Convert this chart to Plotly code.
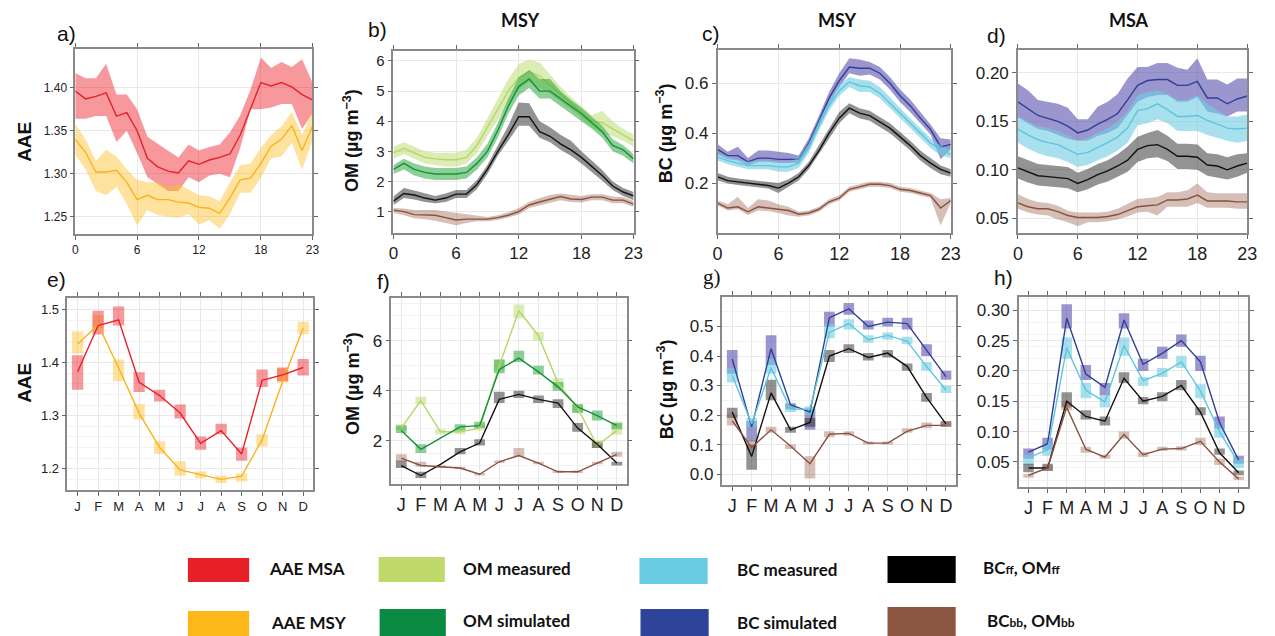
import numpy as np
import plotly.graph_objects as go
from plotly.subplots import make_subplots

# the page body keeps its default 8px margin, so the figure is placed at (8, 8)
OX, OY = 8, 8
FW, FH = 1267, 628

hours = list(range(24))
month_pos = list(range(12))
months = ["J", "F", "M", "A", "M", "J", "J", "A", "S", "O", "N", "D"]

# ---- a) AAE diurnal
a_msa = [1.396, 1.387, 1.390, 1.394, 1.367, 1.371, 1.350, 1.318, 1.308, 1.303, 1.301, 1.315,
         1.311, 1.316, 1.319, 1.323, 1.345, 1.375, 1.406, 1.402, 1.406, 1.401, 1.392, 1.386]
a_msa_hi = [1.417, 1.411, 1.411, 1.428, 1.392, 1.392, 1.375, 1.343, 1.335, 1.327, 1.319, 1.334,
            1.327, 1.331, 1.334, 1.348, 1.368, 1.398, 1.435, 1.423, 1.430, 1.424, 1.433, 1.406]
a_msa_lo = [1.364, 1.364, 1.367, 1.367, 1.337, 1.350, 1.324, 1.296, 1.288, 1.280, 1.280, 1.296,
            1.290, 1.298, 1.300, 1.296, 1.330, 1.375, 1.375, 1.377, 1.381, 1.381, 1.352, 1.370]
a_msy = [1.340, 1.325, 1.302, 1.302, 1.304, 1.290, 1.270, 1.275, 1.270, 1.270, 1.267, 1.266,
         1.261, 1.260, 1.254, 1.272, 1.293, 1.295, 1.312, 1.332, 1.340, 1.356, 1.327, 1.355]
a_msy_hi = [1.358, 1.340, 1.315, 1.328, 1.320, 1.305, 1.293, 1.290, 1.290, 1.285, 1.288, 1.282,
            1.275, 1.274, 1.268, 1.290, 1.310, 1.312, 1.330, 1.345, 1.355, 1.372, 1.345, 1.372]
a_msy_lo = [1.322, 1.305, 1.280, 1.275, 1.285, 1.265, 1.240, 1.258, 1.252, 1.250, 1.249, 1.253,
            1.241, 1.246, 1.236, 1.253, 1.278, 1.278, 1.295, 1.318, 1.320, 1.336, 1.305, 1.338]

# ---- b) OM MSY diurnal
b_meas = [2.95, 3.10, 2.95, 2.80, 2.75, 2.72, 2.72, 2.80, 3.20, 3.80, 4.40, 5.00,
          5.45, 5.65, 5.50, 5.20, 4.90, 4.60, 4.30, 4.00, 3.95, 3.75, 3.55, 3.35]
b_meas_hi = [3.15, 3.30, 3.15, 3.00, 2.95, 2.95, 2.95, 3.05, 3.45, 4.10, 4.75, 5.40,
             5.90, 6.05, 5.95, 5.55, 5.15, 4.80, 4.50, 4.20, 4.35, 4.00, 3.75, 3.55]
b_meas_lo = [2.75, 2.90, 2.75, 2.60, 2.55, 2.50, 2.50, 2.60, 2.95, 3.50, 4.05, 4.60,
             5.05, 5.30, 5.10, 4.90, 4.65, 4.40, 4.10, 3.80, 3.60, 3.50, 3.35, 3.15]
b_sim = [2.40, 2.60, 2.40, 2.30, 2.25, 2.25, 2.25, 2.30, 2.60, 3.00, 3.70, 4.50,
         5.15, 5.40, 5.00, 5.00, 4.75, 4.50, 4.25, 3.95, 3.65, 3.20, 3.05, 2.75]
b_sim_hi = [2.55, 2.75, 2.60, 2.50, 2.45, 2.45, 2.45, 2.50, 2.80, 3.25, 3.95, 4.75,
            5.45, 5.70, 5.40, 5.40, 5.00, 4.70, 4.45, 4.15, 3.85, 3.40, 3.20, 2.90]
b_sim_lo = [2.25, 2.40, 2.20, 2.10, 2.05, 2.05, 2.05, 2.10, 2.40, 2.80, 3.45, 4.25,
            4.85, 5.10, 4.75, 4.75, 4.50, 4.25, 4.00, 3.75, 3.45, 3.00, 2.85, 2.60]
b_ff = [1.35, 1.60, 1.55, 1.45, 1.38, 1.45, 1.58, 1.58, 1.90, 2.40, 3.00, 3.55,
        4.15, 4.15, 3.65, 3.50, 3.25, 3.05, 2.80, 2.50, 2.20, 1.85, 1.65, 1.52]
b_ff_hi = [1.50, 1.78, 1.70, 1.60, 1.52, 1.60, 1.72, 1.72, 2.05, 2.55, 3.20, 3.85,
           4.62, 4.60, 4.00, 3.80, 3.55, 3.35, 3.00, 2.70, 2.38, 2.00, 1.78, 1.65]
b_ff_lo = [1.22, 1.45, 1.40, 1.32, 1.28, 1.32, 1.45, 1.45, 1.75, 2.25, 2.85, 3.35,
           3.85, 3.85, 3.45, 3.30, 3.05, 2.85, 2.60, 2.32, 2.02, 1.72, 1.52, 1.38]
b_bb = [1.05, 1.00, 0.90, 0.90, 0.88, 0.80, 0.72, 0.75, 0.75, 0.75, 0.80, 0.88,
        1.00, 1.22, 1.32, 1.42, 1.50, 1.42, 1.40, 1.48, 1.48, 1.38, 1.38, 1.25]
b_bb_hi = [1.12, 1.10, 1.05, 1.05, 1.05, 1.00, 0.95, 0.90, 0.85, 0.82, 0.88, 0.98,
           1.12, 1.32, 1.45, 1.55, 1.60, 1.55, 1.52, 1.58, 1.58, 1.50, 1.48, 1.35]
b_bb_lo = [0.95, 0.88, 0.78, 0.75, 0.70, 0.62, 0.55, 0.62, 0.68, 0.68, 0.72, 0.80,
           0.90, 1.12, 1.20, 1.30, 1.38, 1.32, 1.30, 1.38, 1.38, 1.28, 1.28, 1.15]

# ---- c) BC MSY diurnal
c_sim = [0.335, 0.310, 0.310, 0.285, 0.300, 0.300, 0.295, 0.295, 0.295, 0.360, 0.450, 0.540,
         0.610, 0.665, 0.660, 0.660, 0.640, 0.600, 0.550, 0.510, 0.460, 0.415, 0.345, 0.355]
c_sim_hi = [0.355, 0.325, 0.345, 0.300, 0.330, 0.330, 0.325, 0.320, 0.310, 0.380, 0.470, 0.565,
            0.640, 0.700, 0.695, 0.685, 0.665, 0.625, 0.575, 0.535, 0.485, 0.435, 0.380, 0.375]
c_sim_lo = [0.315, 0.295, 0.290, 0.270, 0.285, 0.285, 0.280, 0.280, 0.280, 0.340, 0.430, 0.515,
            0.585, 0.640, 0.630, 0.635, 0.615, 0.575, 0.525, 0.485, 0.440, 0.395, 0.295, 0.335]
c_meas = [0.305, 0.290, 0.280, 0.270, 0.270, 0.270, 0.265, 0.265, 0.280, 0.340, 0.430, 0.510,
          0.570, 0.605, 0.590, 0.585, 0.560, 0.520, 0.480, 0.440, 0.400, 0.360, 0.335, 0.315]
c_meas_hi = [0.320, 0.305, 0.295, 0.285, 0.290, 0.290, 0.285, 0.285, 0.300, 0.360, 0.450, 0.530,
             0.595, 0.625, 0.615, 0.610, 0.585, 0.545, 0.500, 0.460, 0.420, 0.380, 0.350, 0.330]
c_meas_lo = [0.290, 0.275, 0.265, 0.255, 0.255, 0.255, 0.245, 0.245, 0.260, 0.320, 0.410, 0.490,
             0.550, 0.585, 0.565, 0.565, 0.540, 0.500, 0.460, 0.420, 0.380, 0.340, 0.310, 0.300]
c_ff = [0.225, 0.210, 0.205, 0.200, 0.195, 0.190, 0.180, 0.200, 0.225, 0.270, 0.330, 0.400,
        0.460, 0.500, 0.480, 0.470, 0.445, 0.420, 0.385, 0.350, 0.310, 0.280, 0.255, 0.240]
c_ff_hi = [0.240, 0.225, 0.218, 0.213, 0.208, 0.205, 0.200, 0.215, 0.240, 0.285, 0.350, 0.420,
           0.485, 0.520, 0.500, 0.490, 0.465, 0.440, 0.405, 0.370, 0.330, 0.300, 0.270, 0.255]
c_ff_lo = [0.210, 0.198, 0.192, 0.188, 0.182, 0.178, 0.160, 0.185, 0.210, 0.255, 0.315, 0.380,
           0.440, 0.480, 0.460, 0.450, 0.425, 0.400, 0.365, 0.330, 0.290, 0.260, 0.235, 0.225]
c_bb = [0.120, 0.100, 0.105, 0.085, 0.105, 0.100, 0.095, 0.090, 0.075, 0.080, 0.095, 0.125,
        0.140, 0.175, 0.185, 0.195, 0.195, 0.190, 0.175, 0.170, 0.160, 0.150, 0.100, 0.130]
c_bb_hi = [0.130, 0.115, 0.145, 0.100, 0.135, 0.130, 0.115, 0.105, 0.085, 0.090, 0.105, 0.135,
           0.150, 0.185, 0.195, 0.205, 0.205, 0.200, 0.185, 0.180, 0.170, 0.160, 0.135, 0.140]
c_bb_lo = [0.110, 0.090, 0.095, 0.072, 0.090, 0.088, 0.080, 0.070, 0.065, 0.070, 0.085, 0.115,
           0.130, 0.165, 0.175, 0.185, 0.185, 0.180, 0.165, 0.160, 0.150, 0.140, 0.030, 0.120]

# ---- d) BC MSA diurnal
d_sim = [0.170, 0.163, 0.156, 0.153, 0.150, 0.145, 0.138, 0.141, 0.147, 0.152, 0.158, 0.172,
         0.187, 0.192, 0.193, 0.193, 0.187, 0.187, 0.191, 0.174, 0.174, 0.168, 0.173, 0.176]
d_sim_hi = [0.189, 0.182, 0.172, 0.170, 0.168, 0.164, 0.152, 0.152, 0.165, 0.170, 0.178, 0.194,
            0.206, 0.206, 0.210, 0.210, 0.205, 0.203, 0.215, 0.193, 0.193, 0.188, 0.194, 0.194]
d_sim_lo = [0.154, 0.148, 0.142, 0.140, 0.136, 0.132, 0.130, 0.130, 0.135, 0.138, 0.143, 0.157,
            0.170, 0.175, 0.177, 0.177, 0.170, 0.170, 0.175, 0.160, 0.158, 0.155, 0.160, 0.160]
d_meas = [0.142, 0.136, 0.131, 0.128, 0.126, 0.121, 0.116, 0.118, 0.123, 0.128, 0.134, 0.143,
          0.161, 0.163, 0.168, 0.162, 0.155, 0.155, 0.156, 0.151, 0.147, 0.143, 0.142, 0.143]
d_meas_hi = [0.155, 0.150, 0.145, 0.143, 0.140, 0.136, 0.130, 0.133, 0.138, 0.143, 0.150, 0.160,
             0.177, 0.180, 0.182, 0.178, 0.172, 0.172, 0.177, 0.168, 0.162, 0.155, 0.155, 0.157]
d_meas_lo = [0.128, 0.122, 0.117, 0.114, 0.112, 0.108, 0.103, 0.105, 0.110, 0.114, 0.120, 0.128,
             0.146, 0.148, 0.152, 0.148, 0.140, 0.140, 0.140, 0.136, 0.133, 0.130, 0.128, 0.130]
d_ff = [0.102, 0.098, 0.094, 0.093, 0.092, 0.091, 0.086, 0.090, 0.095, 0.099, 0.104, 0.110,
        0.121, 0.125, 0.126, 0.121, 0.114, 0.114, 0.113, 0.105, 0.104, 0.100, 0.104, 0.107]
d_ff_hi = [0.114, 0.110, 0.106, 0.105, 0.104, 0.103, 0.097, 0.101, 0.106, 0.110, 0.116, 0.124,
           0.134, 0.138, 0.141, 0.135, 0.127, 0.127, 0.126, 0.117, 0.116, 0.113, 0.116, 0.117]
d_ff_lo = [0.091, 0.087, 0.084, 0.083, 0.082, 0.081, 0.077, 0.080, 0.085, 0.088, 0.093, 0.098,
           0.108, 0.112, 0.113, 0.109, 0.101, 0.101, 0.100, 0.094, 0.092, 0.090, 0.093, 0.097]
d_bb = [0.066, 0.062, 0.060, 0.060, 0.057, 0.053, 0.051, 0.051, 0.051, 0.052, 0.054, 0.058,
        0.062, 0.063, 0.064, 0.069, 0.069, 0.070, 0.074, 0.068, 0.068, 0.068, 0.067, 0.067]
d_bb_hi = [0.075, 0.070, 0.067, 0.066, 0.063, 0.058, 0.056, 0.056, 0.056, 0.057, 0.060, 0.065,
           0.070, 0.071, 0.072, 0.077, 0.077, 0.079, 0.086, 0.077, 0.076, 0.076, 0.076, 0.076]
d_bb_lo = [0.060, 0.056, 0.054, 0.053, 0.049, 0.046, 0.042, 0.046, 0.046, 0.047, 0.049, 0.052,
           0.056, 0.057, 0.053, 0.062, 0.062, 0.062, 0.066, 0.061, 0.061, 0.061, 0.060, 0.060]

# ---- e) AAE monthly
e_msa = [1.383, 1.470, 1.481, 1.363, 1.338, 1.305, 1.248, 1.272, 1.228, 1.367, 1.377, 1.391]
e_msa_lo = [1.349, 1.453, 1.470, 1.345, 1.327, 1.295, 1.236, 1.265, 1.215, 1.354, 1.365, 1.376]
e_msa_hi = [1.414, 1.498, 1.506, 1.382, 1.349, 1.321, 1.261, 1.285, 1.240, 1.387, 1.391, 1.407]
e_msy = [1.435, 1.472, 1.390, 1.305, 1.240, 1.198, 1.189, 1.180, 1.186, 1.255, 1.365, 1.465]
e_msy_lo = [1.418, 1.465, 1.365, 1.293, 1.228, 1.187, 1.182, 1.173, 1.176, 1.242, 1.362, 1.454]
e_msy_hi = [1.459, 1.490, 1.406, 1.322, 1.252, 1.214, 1.195, 1.187, 1.191, 1.265, 1.389, 1.477]

# ---- f) OM monthly
f_meas = [2.50, 3.60, 2.35, 2.35, 2.50, 5.00, 7.20, 6.20, 4.30, 3.30, 1.80, 2.40]
f_meas_lo = [2.40, 3.45, 2.25, 2.25, 2.40, 4.80, 6.90, 6.00, 4.10, 3.15, 1.70, 2.23]
f_meas_hi = [2.65, 3.75, 2.45, 2.45, 2.65, 5.25, 7.45, 6.35, 4.50, 3.45, 2.00, 2.76]
f_sim = [2.40, 1.65, 2.10, 2.55, 2.60, 4.85, 5.30, 4.75, 4.15, 3.35, 3.00, 2.60]
f_sim_lo = [2.30, 1.50, None, 2.40, 2.50, 4.70, 5.15, 4.65, 4.00, 3.10, 2.80, 2.45]
f_sim_hi = [2.60, 1.85, None, 2.65, 2.75, 5.25, 5.60, 5.00, 4.35, 3.45, 3.20, 2.70]
f_ff = [1.00, 0.60, 1.05, 1.55, 1.90, 3.65, 3.85, 3.65, 3.50, 2.50, 1.85, 1.10]
f_ff_lo = [0.90, 0.50, None, 1.45, 1.80, 3.50, 3.70, 3.50, 3.30, 2.35, 1.70, 1.00]
f_ff_hi = [1.20, 0.75, None, 1.70, 2.05, 3.95, 4.00, 3.80, 3.65, 2.70, 1.95, 1.15]
f_bb = [1.30, 1.00, 0.95, 0.90, 0.65, 1.15, 1.40, 1.10, 0.75, 0.75, 1.10, 1.45]
f_bb_lo = [1.15, 0.95, 0.90, 0.85, 0.60, 1.10, 1.35, 1.05, 0.70, 0.70, 1.05, 1.35]
f_bb_hi = [1.45, 1.15, 1.00, 0.95, 0.70, 1.20, 1.70, 1.15, 0.80, 0.80, 1.15, 1.55]

# ---- g) BC MSY monthly
g_sim = [0.390, 0.160, 0.425, 0.235, 0.210, 0.530, 0.560, 0.500, 0.515, 0.510, 0.420, 0.330]
g_sim_lo = [0.340, 0.110, 0.370, 0.220, 0.150, 0.500, 0.540, 0.490, 0.500, 0.490, 0.400, 0.320]
g_sim_hi = [0.420, 0.180, 0.470, 0.240, 0.220, 0.550, 0.580, 0.520, 0.530, 0.530, 0.440, 0.350]
g_meas = [0.335, 0.170, 0.360, 0.220, 0.220, 0.480, 0.510, 0.455, 0.470, 0.450, 0.365, 0.285]
g_meas_lo = [0.310, 0.160, 0.340, 0.210, 0.200, 0.460, 0.490, 0.445, 0.455, 0.440, 0.350, 0.275]
g_meas_hi = [0.360, 0.190, 0.390, 0.235, 0.230, 0.510, 0.525, 0.470, 0.480, 0.465, 0.380, 0.300]
g_ff = [0.210, 0.060, 0.275, 0.150, 0.175, 0.400, 0.425, 0.395, 0.410, 0.365, 0.260, 0.170]
g_ff_lo = [0.190, 0.015, 0.250, 0.140, 0.160, 0.380, 0.410, 0.385, 0.395, 0.350, 0.245, 0.160]
g_ff_hi = [0.225, 0.100, 0.320, 0.160, 0.190, 0.420, 0.440, 0.410, 0.420, 0.375, 0.275, 0.180]
g_bb = [0.180, 0.090, 0.150, 0.095, 0.035, 0.135, 0.138, 0.105, 0.105, 0.145, 0.165, 0.165]
g_bb_lo = [0.165, 0.080, 0.140, 0.085, -0.015, 0.125, 0.130, 0.100, 0.100, 0.140, 0.155, 0.160]
g_bb_hi = [0.205, 0.115, 0.160, 0.100, 0.060, 0.145, 0.145, 0.110, 0.110, 0.155, 0.175, 0.175]

# ---- h) BC MSA monthly
h_sim = [0.066, 0.080, 0.287, 0.195, 0.173, 0.284, 0.211, 0.229, 0.250, 0.215, 0.115, 0.053]
h_sim_lo = [0.055, 0.070, 0.270, 0.185, 0.160, 0.270, 0.200, 0.220, 0.240, 0.200, 0.105, 0.047]
h_sim_hi = [0.072, 0.090, 0.310, 0.210, 0.180, 0.295, 0.220, 0.240, 0.260, 0.225, 0.125, 0.060]
h_meas = [0.057, 0.070, 0.238, 0.168, 0.149, 0.242, 0.184, 0.196, 0.215, 0.167, 0.100, 0.048]
h_meas_lo = [0.045, 0.060, 0.220, 0.155, 0.140, 0.225, 0.175, 0.190, 0.205, 0.155, 0.090, 0.040]
h_meas_hi = [0.062, 0.080, 0.255, 0.180, 0.160, 0.255, 0.190, 0.205, 0.225, 0.178, 0.110, 0.055]
h_ff = [0.040, 0.040, 0.150, 0.125, 0.117, 0.188, 0.150, 0.158, 0.176, 0.132, 0.065, 0.032]
h_ff_lo = [0.033, 0.035, 0.140, 0.120, 0.110, 0.180, 0.145, 0.150, 0.168, 0.127, 0.062, 0.028]
h_ff_hi = [0.047, 0.047, 0.165, 0.135, 0.125, 0.198, 0.157, 0.165, 0.185, 0.140, 0.072, 0.036]
h_bb = [0.028, 0.040, 0.140, 0.071, 0.058, 0.095, 0.062, 0.071, 0.072, 0.084, 0.050, 0.022]
h_bb_lo = [0.024, 0.036, 0.135, 0.065, 0.055, 0.088, 0.058, 0.068, 0.069, 0.078, 0.045, 0.020]
h_bb_hi = [0.030, 0.045, 0.150, 0.075, 0.062, 0.100, 0.066, 0.075, 0.076, 0.090, 0.055, 0.026]

# colours: (line, translucent fill)
RED = ("#e8202a", "rgba(237,28,36,0.45)")
YEL = ("#fbb21a", "rgba(253,190,40,0.45)")
LGR = ("#b7d66a", "rgba(190,220,120,0.55)")
DGR = ("#13923c", "rgba(30,160,50,0.5)")
LBL = ("#5bc6de", "rgba(110,205,225,0.6)")
DBL = ("#2f3f98", "rgba(90,80,175,0.6)")
BLK = ("#111111", "rgba(40,40,40,0.5)")
BRN = ("#8b5040", "rgba(150,95,75,0.4)")

fig = make_subplots(rows=2, cols=4)


def band(r, c, lo, hi, col):
    fig.add_trace(go.Scatter(x=hours + hours[::-1], y=hi + lo[::-1], fill="toself",
                             fillcolor=col[1], mode="lines", line=dict(width=0),
                             hoverinfo="skip", showlegend=False), row=r, col=c)


def line(r, c, x, y, col, w=1.4):
    fig.add_trace(go.Scatter(x=x, y=y, mode="lines", line=dict(color=col[0], width=w),
                             showlegend=False), row=r, col=c)


def boxes(r, c, lo, hi, col):
    lo = np.array(lo, dtype=float)
    hi = np.array(hi, dtype=float)
    fig.add_trace(go.Bar(x=month_pos, y=hi - lo, base=lo, width=0.55,
                         marker=dict(color=col[1], line=dict(width=0)),
                         showlegend=False), row=r, col=c)


# top row: diurnal bands
for lo, hi, y, col in [(a_msa_lo, a_msa_hi, a_msa, RED), (a_msy_lo, a_msy_hi, a_msy, YEL)]:
    band(1, 1, lo, hi, col)
for lo, hi, y, col in [(a_msa_lo, a_msa_hi, a_msa, RED), (a_msy_lo, a_msy_hi, a_msy, YEL)]:
    line(1, 1, hours, y, col)

for lo, hi, y, col in [(b_meas_lo, b_meas_hi, b_meas, LGR), (b_sim_lo, b_sim_hi, b_sim, DGR),
                       (b_ff_lo, b_ff_hi, b_ff, BLK), (b_bb_lo, b_bb_hi, b_bb, BRN)]:
    band(1, 2, lo, hi, col)
    line(1, 2, hours, y, col)

for lo, hi, y, col in [(c_sim_lo, c_sim_hi, c_sim, DBL), (c_meas_lo, c_meas_hi, c_meas, LBL),
                       (c_ff_lo, c_ff_hi, c_ff, BLK), (c_bb_lo, c_bb_hi, c_bb, BRN)]:
    band(1, 3, lo, hi, col)
    line(1, 3, hours, y, col)

for lo, hi, y, col in [(d_sim_lo, d_sim_hi, d_sim, DBL), (d_meas_lo, d_meas_hi, d_meas, LBL),
                       (d_ff_lo, d_ff_hi, d_ff, BLK), (d_bb_lo, d_bb_hi, d_bb, BRN)]:
    band(1, 4, lo, hi, col)
    line(1, 4, hours, y, col)

# bottom row: monthly boxes + lines
bottom = [
    (1, [(e_msy_lo, e_msy_hi, e_msy, YEL), (e_msa_lo, e_msa_hi, e_msa, RED)]),
    (2, [(f_meas_lo, f_meas_hi, f_meas, LGR), (f_sim_lo, f_sim_hi, f_sim, DGR),
         (f_ff_lo, f_ff_hi, f_ff, BLK), (f_bb_lo, f_bb_hi, f_bb, BRN)]),
    (3, [(g_sim_lo, g_sim_hi, g_sim, DBL), (g_meas_lo, g_meas_hi, g_meas, LBL),
         (g_ff_lo, g_ff_hi, g_ff, BLK), (g_bb_lo, g_bb_hi, g_bb, BRN)]),
    (4, [(h_sim_lo, h_sim_hi, h_sim, DBL), (h_meas_lo, h_meas_hi, h_meas, LBL),
         (h_ff_lo, h_ff_hi, h_ff, BLK), (h_bb_lo, h_bb_hi, h_bb, BRN)]),
]
for c, series in bottom:
    for lo, hi, y, col in series:
        boxes(2, c, lo, hi, col)
    for lo, hi, y, col in series:
        line(2, c, month_pos, y, col)


def px(x):
    return (x - OX) / FW


def py(y):
    return 1 - (y - OY) / FH


def dom(x0, x1, y0, y1):
    return [px(x0), px(x1)], [py(y1), py(y0)]


panels = [
    # (x0, x1, y0, y1) in window pixels, yrange, ytickvals, ytickformat, ytick font, xtick font
    ((71, 311, 49, 234), [1.23, 1.445], [1.25, 1.30, 1.35, 1.40], ".2f", 12, 12),
    ((393, 636, 51, 233), [0.29, 6.33], [1, 2, 3, 4, 5, 6], "d", 15, 17),
    ((721, 957, 50, 233), [0.0, 0.733], [0.2, 0.4, 0.6], ".1f", 17, 18),
    ((1025, 1257, 50, 233), [0.035, 0.2234], [0.05, 0.10, 0.15, 0.20], ".2f", 17, 18),
    ((63, 312, 298, 490), [1.16, 1.522], [1.2, 1.3, 1.4, 1.5], ".1f", 13, 13),
    ((391, 629, 298, 484), [0.26, 7.71], [2, 4, 6], "d", 17, 18),
    ((726, 962, 297, 485), [-0.037, 0.60], [0.0, 0.1, 0.2, 0.3, 0.4, 0.5], ".1f", 17, 18),
    ((1026, 1258, 297, 487), [0.0086, 0.322], [0.05, 0.10, 0.15, 0.20, 0.25, 0.30], ".2f", 17, 18),
]

FONT = "Liberation Sans, Arial, sans-serif"
axis_common = dict(showline=True, mirror="ticks", linecolor="#8a8a8a", linewidth=1.5,
                   ticks="outside", ticklen=4, tickcolor="#666", gridcolor="#e8e8e8",
                   zeroline=False, showgrid=True)

for i, (box, yr, ytv, yfmt, yfs, xfs) in enumerate(panels):
    k = "" if i == 0 else str(i + 1)
    xd, yd = dom(*box)
    if i < 4:
        xa = dict(domain=xd, range=[0, 23], tickvals=[0, 6, 12, 18, 23],
                  tickfont=dict(size=xfs, color="#222", family=FONT), **axis_common)
    else:
        xa = dict(domain=xd, range=[-0.5, 11.5], tickvals=month_pos, ticktext=months,
                  tickfont=dict(size=xfs, color="#222", family=FONT), **axis_common)
    ya = dict(domain=yd, range=yr, tickvals=ytv, tickformat=yfmt,
              tickfont=dict(size=yfs, color="#222", family=FONT), **axis_common)
    if i >= 4:
        ya["minor"] = dict(showgrid=True, gridcolor="#f3f3f3", ticks="")
    fig.layout["xaxis" + k].update(xa)
    fig.layout["yaxis" + k].update(ya)

ann = []


def text(x, y, s, size, bold=False, angle=0, family=FONT, xanchor="center", color="#111"):
    ann.append(dict(x=px(x), y=py(y), xref="paper", yref="paper", text=s,
                    showarrow=False, textangle=angle, xanchor=xanchor, yanchor="middle",
                    font=dict(size=size, family=family, color=color,
                              weight="bold" if bold else "normal")))


# panel letters
for lab, x, y in [("a)", 62, 33), ("b)", 377, 30), ("c)", 714, 34), ("d)", 1003, 35),
                  ("e)", 52, 279), ("f)", 383, 281), ("h)", 1010, 277)]:
    text(x, y, lab, 21)
text(715, 277, "g)", 21, family="Liberation Serif, Times New Roman, serif")

# column titles
text(522, 20, "MSY", 18, bold=True, family="Lato, Open Sans, sans-serif")
text(842, 20, "MSY", 18, bold=True, family="Lato, Open Sans, sans-serif")
text(1137, 20, "MSA", 18, bold=True, family="Lato, Open Sans, sans-serif")

# y-axis titles
om = "OM (µg m<sup>−3</sup>)"
bc = "BC (µg m<sup>−3</sup>)"
text(19, 142, "AAE", 19, bold=True, angle=-90)
text(351, 140, om, 18, bold=True, angle=-90)
text(667, 133, bc, 18, bold=True, angle=-90)
text(19, 383, "AAE", 19, bold=True, angle=-90)
text(351, 383, om, 18, bold=True, angle=-90)
text(668, 389, bc, 18, bold=True, angle=-90)

# legend
small = "<span style='font-size:12px'>{}</span>"
legend_items = [
    (185, 247, 558, 582, RED[0], 265, "AAE MSA"),
    (185, 247, 611, 636, "#fdb71a", 267, "AAE MSY"),
    (378, 445, 557, 582, "#bfd96b", 461, "OM measured"),
    (379, 446, 609, 636, "#0a8a43", 461, "OM simulated"),
    (642, 711, 558, 584, "#69cbe2", 739, "BC measured"),
    (643, 712, 609, 636, "#2e449a", 739, "BC simulated"),
    (893, 962, 556, 583, "#000000", 988, "BC" + small.format("ff") + ", OM" + small.format("ff")),
    (893, 962, 607, 636, "#8b5742", 992, "BC" + small.format("bb") + ", OM" + small.format("bb")),
]
text_y = [568, 622, 568, 620, 569, 622, 567, 620]
shapes = []
for (x0, x1, y0, y1, colr, tx, lab), ty in zip(legend_items, text_y):
    shapes.append(dict(type="rect", xref="paper", yref="paper", x0=px(x0), x1=px(x1),
                       y0=py(y1), y1=py(y0), fillcolor=colr, line=dict(width=0)))
    text(tx, ty, lab, 17, bold=True, family="Lato, Open Sans, sans-serif", xanchor="left")

fig.update_layout(width=FW, height=FH, margin=dict(l=0, r=0, t=0, b=0),
                  paper_bgcolor="white", plot_bgcolor="white", barmode="overlay",
                  showlegend=False, annotations=ann, shapes=shapes,
                  font=dict(family=FONT))

fig.write_html("out.html")
